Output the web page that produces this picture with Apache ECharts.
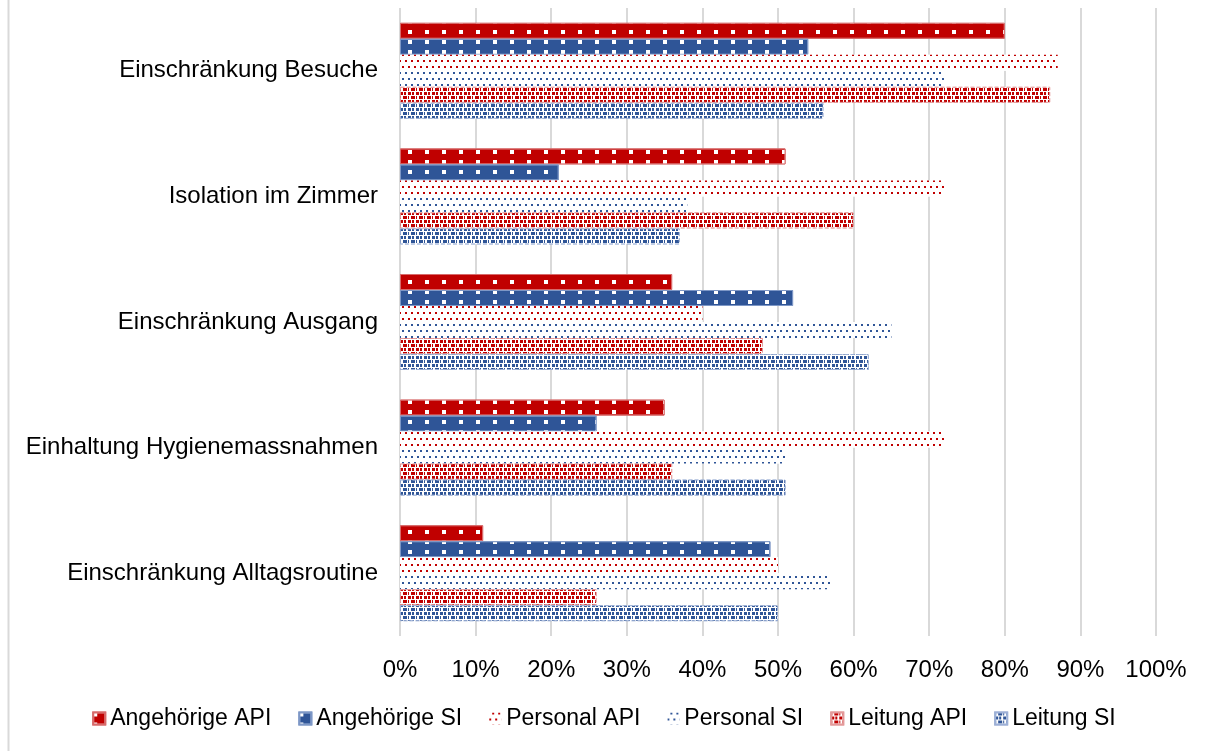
<!DOCTYPE html>
<html>
<head>
<meta charset="utf-8">
<style>
html,body{margin:0;padding:0;background:#fff;}
#chart{width:1208px;height:751px;}
</style>
<script src="https://cdn.jsdelivr.net/npm/echarts@6/dist/echarts.min.js"></script>
</head>
<body>
<div id="chart"></div>
<script>
// Categories (top to bottom)
const categories = ['Einschränkung Besuche', 'Isolation im Zimmer', 'Einschränkung Ausgang', 'Einhaltung Hygienemassnahmen', 'Einschränkung Alltagsroutine'];
const seriesNames = ['Angehörige API', 'Angehörige SI', 'Personal API', 'Personal SI', 'Leitung API', 'Leitung SI'];
// Values in percent, per category (same order as categories)
const angehoerigeAPI = [80, 51, 36, 35, 11];
const angehoerigeSI  = [54, 21, 52, 26, 49];
const personalAPI    = [87, 72, 40, 72, 50];
const personalSI     = [72, 38, 65, 51, 57];
const leitungAPI     = [86, 60, 48, 36, 26];
const leitungSI      = [56, 37, 62, 51, 50];
const xTickValues = [0, 10, 20, 30, 40, 50, 60, 70, 80, 90, 100];

const RED = '#C00000', BLUE = '#2F5597';
const FONT = '"Liberation Sans", Arial, sans-serif';

function solidStyle(c, border) {
  return { color: c, borderColor: border, borderWidth: 1,
    decal: { symbol: 'rect', symbolSize: 1, color: '#ffffff', dashArrayX: [4, 13], dashArrayY: [4, 6] } };
}
function sparseStyle(c) {
  return { color: '#ffffff',
    decal: { symbol: 'rect', symbolSize: 1, color: c, backgroundColor: '#ffffff',
      dashArrayX: [[2, 4], [0, 3, 2, 1]], dashArrayY: [2, 4] } };
}
function denseStyle(c, border) {
  return { color: '#ffffff', borderColor: border, borderWidth: 1, borderType: 'dashed',
    decal: { symbol: 'rect', symbolSize: 1, color: c, backgroundColor: '#ffffff',
      dashArrayX: [[3, 1, 2, 2], [1, 2, 4, 1]], dashArrayY: [3, 1] } };
}

const data = [angehoerigeAPI, angehoerigeSI, personalAPI, personalSI, leitungAPI, leitungSI];
const styles = [
  solidStyle(RED, '#d76a6a'), solidStyle(BLUE, '#7d97c6'),
  sparseStyle(RED), sparseStyle(BLUE),
  denseStyle(RED, '#e39a9a'), denseStyle(BLUE, '#9db0d6')
];

const series = seriesNames.map((n, i) => ({
  name: n, type: 'bar', data: data[i], barWidth: 16, barGap: '0%',
  itemStyle: styles[i], emphasis: { disabled: true }
}));

const chart = echarts.init(document.getElementById('chart'), null, { renderer: 'canvas' });
chart.setOption({
  animation: false,
  backgroundColor: '#ffffff',
  textStyle: { fontFamily: FONT },
  grid: { left: 400, right: 52, top: 8, bottom: 115, containLabel: false },
  legend: {
    data: seriesNames, bottom: 16, left: 'center',
    itemWidth: 12, itemHeight: 12, itemGap: 27,
    icon: 'rect',
    textStyle: { fontSize: 23, color: '#000', fontFamily: FONT }
  },
  xAxis: {
    type: 'value', min: 0, max: 100, interval: 10,
    axisLine: { show: false }, axisTick: { show: false },
    splitLine: { show: true, lineStyle: { color: '#d9d9d9', width: 2 } },
    axisLabel: { fontSize: 24, color: '#000', margin: 22, fontFamily: FONT,
      formatter: v => (xTickValues.indexOf(v) >= 0 ? v + '%' : '') }
  },
  yAxis: {
    type: 'category', data: categories, inverse: true,
    axisLine: { show: false }, axisTick: { show: false },
    axisLabel: { fontSize: 24, color: '#000', margin: 22, fontFamily: FONT }
  },
  graphic: [{ type: 'line', shape: { x1: 8.5, y1: 0, x2: 8.5, y2: 751 }, style: { stroke: '#d9d9d9', lineWidth: 2 }, silent: true }],
  series: series
});
</script>
</body>
</html>
